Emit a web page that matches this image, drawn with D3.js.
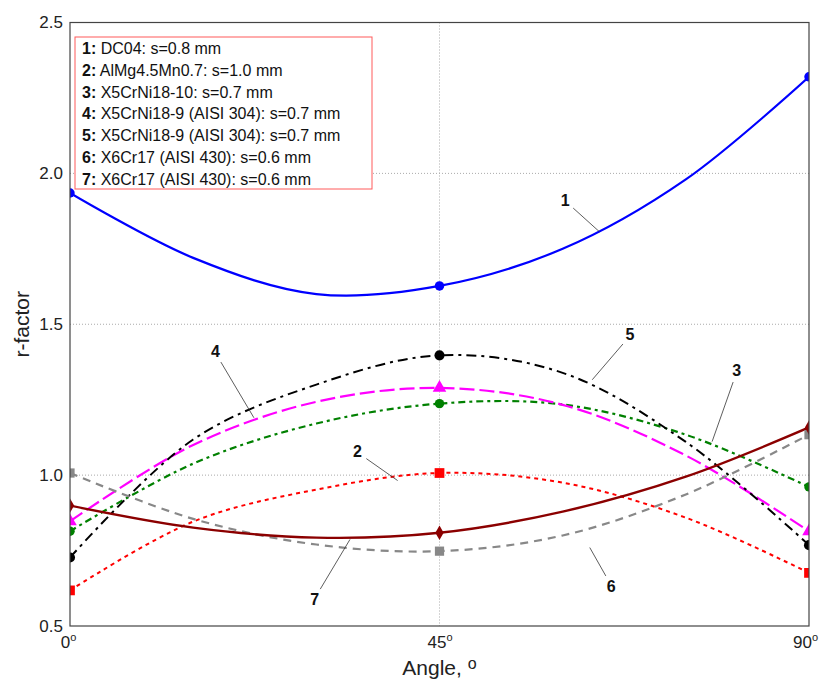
<!DOCTYPE html>
<html><head><meta charset="utf-8">
<script src="https://cdn.jsdelivr.net/npm/d3@7"></script>
<style>body{margin:0;background:#fff;} svg{display:block;font-family:"Liberation Sans",Arial,sans-serif;}</style>
</head><body>
<svg id="chart" width="820" height="684"></svg>
<script>
// ---- data ----
const angles = [0, 15, 30, 45, 60, 75, 90];
const markerAngles = [0, 45, 90];
const s1 = [1.935, 1.72, 1.60, 1.627, 1.75, 1.98, 2.32];
const s2 = [0.618, 0.846, 0.952, 1.007, 0.975, 0.859, 0.676];
const s3 = [0.814, 1.038, 1.171, 1.237, 1.234, 1.134, 0.961];
const s4 = [0.847, 1.10, 1.243, 1.289, 1.233, 1.065, 0.814];
const s5 = [0.727, 1.118, 1.30, 1.397, 1.339, 1.11, 0.768];
const s6 = [1.007, 0.855, 0.77, 0.748, 0.80, 0.936, 1.134];
const s7 = [0.899, 0.826, 0.793, 0.809, 0.879, 0.995, 1.158];
const seriesIds = ["1", "2", "3", "4", "5", "6", "7"];
const legendMaterials = ["DC04: s=0.8 mm", "AlMg4.5Mn0.7: s=1.0 mm", "X5CrNi18-10: s=0.7 mm",
  "X5CrNi18-9 (AISI 304): s=0.7 mm", "X5CrNi18-9 (AISI 304): s=0.7 mm",
  "X6Cr17 (AISI 430): s=0.6 mm", "X6Cr17 (AISI 430): s=0.6 mm"];
const yTicks = [0.5, 1.0, 1.5, 2.0, 2.5];
const xTicks = [0, 45, 90];
// label positions [angle, value] and pointer ends [angle, value]
const labelPos = [[60.3, 1.912], [35.0, 1.078], [81.2, 1.346], [17.7, 1.409], [68.2, 1.465], [65.9, 0.631], [29.8, 0.588]];
const pointerEnd = [[64.5, 1.806], [39.9, 0.982], [78.2, 1.111], [22.4, 1.19], [63.6, 1.316], [63.3, 0.760], [34.1, 0.787]];

// ---- styles ----
const allSeries = [s1, s2, s3, s4, s5, s6, s7];
const colors = ["#0000ff", "#ff0000", "#008000", "#ff00ff", "#000000", "#888888", "#8b0000"];
const dashes = [null, "4,4", "7,4,3,4", "15,5", "10,5,3,5", "8,6", null];
const widths = [2.2, 2, 2.2, 2.2, 2, 2.2, 2.4];
const symbols = [d3.symbolCircle, d3.symbolSquare, d3.symbolCircle, d3.symbolTriangle, d3.symbolCircle, d3.symbolSquare, d3.symbolDiamond];
const symSizes = [70, 95, 70, 80, 80, 85, 60];

const svg = d3.select("#chart");
const L = 70, R = 809, T = 22.5, B = 626;
const x = d3.scaleLinear().domain([0, 90]).range([L, R]);
const y = d3.scaleLinear().domain([0.5, 2.5]).range([B, T]);

svg.append("defs").append("clipPath").attr("id", "clip")
  .append("rect").attr("x", L).attr("y", T).attr("width", R - L).attr("height", B - T);

// grid
const grid = svg.append("g");
grid.selectAll("line.h").data(yTicks.slice(1, -1)).join("line")
  .attr("x1", L).attr("x2", R).attr("y1", d => y(d)).attr("y2", d => y(d))
  .attr("stroke", "#aaa").attr("stroke-width", 1).attr("stroke-dasharray", "1,2");
grid.selectAll("line.v").data(xTicks.slice(1, -1)).join("line")
  .attr("y1", T).attr("y2", B).attr("x1", d => x(d)).attr("x2", d => x(d))
  .attr("stroke", "#aaa").attr("stroke-width", 1).attr("stroke-dasharray", "1,2");

// axes (labels only)
const yAxis = svg.append("g").attr("transform", `translate(${L},0)`)
  .call(d3.axisLeft(y).tickValues(yTicks).tickFormat(d3.format(".1f")).tickSize(0).tickPadding(7));
yAxis.select(".domain").remove();
yAxis.selectAll("text").attr("font-size", 17).attr("fill", "#222").attr("font-family", "Liberation Sans, Arial, sans-serif");

const xAxis = svg.append("g").attr("transform", `translate(0,${B})`)
  .call(d3.axisBottom(x).tickValues(xTicks).tickFormat("").tickSize(0));
xAxis.select(".domain").remove();
xAxis.selectAll(".tick").each(function (d) {
  const t = d3.select(this).append("text").attr("y", 22).attr("text-anchor", "middle")
    .attr("font-size", 17).attr("fill", "#222").attr("font-family", "Liberation Sans, Arial, sans-serif")
    .attr("dx", d === 0 ? -2 : (d === 90 ? -4 : 0));
  t.append("tspan").text(d);
  t.append("tspan").text("o").attr("font-size", 11).attr("dy", -7);
});

// axis titles
const at = svg.append("text").attr("x", (L + R) / 2).attr("y", 675).attr("text-anchor", "middle")
  .attr("font-size", 21).attr("fill", "#222");
at.append("tspan").text("Angle, ");
at.append("tspan").text("o").attr("font-size", 16).attr("dy", -6);
svg.append("text").attr("transform", `translate(29,${(T + B) / 2}) rotate(-90)`)
  .attr("text-anchor", "middle").attr("font-size", 21).attr("fill", "#222").text("r-factor");

// series
const plot = svg.append("g").attr("clip-path", "url(#clip)");
const line = d3.line().x(d => x(d[0])).y(d => y(d[1])).curve(d3.curveCatmullRom.alpha(0.5));
allSeries.forEach((vals, i) => {
  const pts = angles.map((a, j) => [a, vals[j]]);
  plot.append("path").datum(pts).attr("d", line).attr("fill", "none")
    .attr("stroke", colors[i]).attr("stroke-width", widths[i])
    .attr("stroke-dasharray", dashes[i]);
});
allSeries.forEach((vals, i) => {
  const pts = angles.map((a, j) => [a, vals[j]]).filter(p => markerAngles.includes(p[0]));
  plot.selectAll(null).data(pts).join("path")
    .attr("d", d3.symbol().type(symbols[i]).size(symSizes[i]))
    .attr("transform", d => `translate(${x(d[0])},${y(d[1])})`)
    .attr("fill", colors[i]);
});

// frame
svg.append("rect").attr("x", L).attr("y", T).attr("width", R - L).attr("height", B - T)
  .attr("fill", "none").attr("stroke", "#444").attr("stroke-width", 1.2);

// series labels with pointer lines
labelPos.forEach((lp, i) => {
  const lx = x(lp[0]), ly = y(lp[1]);
  const ex = x(pointerEnd[i][0]), ey = y(pointerEnd[i][1]);
  const dx = ex - lx, dy = ey - ly, len = Math.hypot(dx, dy);
  const sx = lx + dx / len * 11, sy = ly + dy / len * 12;
  svg.append("line").attr("x1", sx).attr("y1", sy).attr("x2", ex).attr("y2", ey)
    .attr("stroke", "#333").attr("stroke-width", 0.8);
  svg.append("text").attr("x", lx).attr("y", ly).attr("dy", "0.35em").attr("text-anchor", "middle")
    .attr("font-size", 16).attr("font-weight", "bold").attr("fill", "#111").text(seriesIds[i]);
});

// legend
const lg = svg.append("g");
lg.append("rect").attr("x", 75).attr("y", 37).attr("width", 297).attr("height", 152)
  .attr("fill", "#fff").attr("stroke", "#ff5a5a").attr("stroke-width", 1);
legendMaterials.forEach((m, i) => {
  const t = lg.append("text").attr("x", 82).attr("y", 54 + i * 21.8).attr("font-size", 16).attr("fill", "#111");
  t.append("tspan").attr("font-weight", "bold").text(seriesIds[i] + ":");
  t.append("tspan").text(" " + m);
});
</script>
</body></html>
